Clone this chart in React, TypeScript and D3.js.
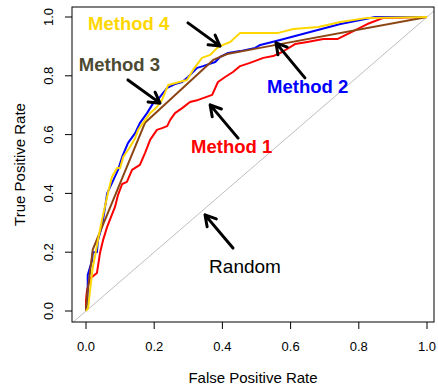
import * as d3 from "d3";

// ROC curves: [false positive rate, true positive rate]
const method1: [number, number][] = [
  [0, 0], [0, 0.037], [0.003, 0.071], [0.012, 0.112], [0.018, 0.116], [0.032, 0.129],
  [0.041, 0.197], [0.05, 0.241], [0.062, 0.286], [0.07, 0.31], [0.085, 0.354],
  [0.094, 0.395], [0.106, 0.432], [0.12, 0.439], [0.135, 0.48], [0.158, 0.497],
  [0.173, 0.537], [0.188, 0.582], [0.208, 0.616], [0.223, 0.622], [0.238, 0.629],
  [0.247, 0.65], [0.261, 0.673], [0.282, 0.69], [0.305, 0.711], [0.329, 0.718],
  [0.37, 0.735], [0.387, 0.779], [0.408, 0.796], [0.431, 0.813], [0.452, 0.833],
  [0.481, 0.844], [0.52, 0.861], [0.549, 0.867], [0.575, 0.881], [0.613, 0.908],
  [0.649, 0.915], [0.696, 0.925], [0.737, 0.925], [0.784, 0.952], [0.825, 0.976],
  [0.872, 0.997], [1, 1],
];

const method2: [number, number][] = [
  [0, 0], [0.005, 0.037], [0.005, 0.122], [0.018, 0.173], [0.02, 0.2], [0.032, 0.2],
  [0.035, 0.24], [0.047, 0.29], [0.056, 0.354], [0.062, 0.4], [0.076, 0.435],
  [0.094, 0.48], [0.106, 0.524], [0.123, 0.571], [0.144, 0.605], [0.158, 0.639],
  [0.179, 0.673], [0.197, 0.707], [0.217, 0.728], [0.238, 0.759], [0.261, 0.772],
  [0.282, 0.779], [0.299, 0.796], [0.326, 0.827], [0.343, 0.833], [0.379, 0.847],
  [0.393, 0.864], [0.417, 0.878], [0.452, 0.884], [0.496, 0.895], [0.511, 0.905],
  [0.569, 0.922], [0.746, 0.976], [0.848, 1], [1, 1],
];

const method3: [number, number][] = [
  [0, 0], [0.003, 0.05], [0.02, 0.21], [0.173, 0.64], [0.373, 0.854],
  [0.414, 0.874], [0.51, 0.895], [1, 1],
];

const method4: [number, number][] = [
  [0, 0], [0.006, 0.01], [0.012, 0.071], [0.02, 0.15], [0.026, 0.184], [0.035, 0.241],
  [0.047, 0.31], [0.065, 0.405], [0.076, 0.456], [0.091, 0.486], [0.1, 0.486],
  [0.109, 0.524], [0.129, 0.558], [0.144, 0.588], [0.153, 0.616], [0.167, 0.639],
  [0.188, 0.673], [0.208, 0.694], [0.223, 0.718], [0.241, 0.769], [0.296, 0.786],
  [0.314, 0.82], [0.34, 0.861], [0.364, 0.871], [0.385, 0.895], [0.402, 0.905],
  [0.423, 0.915], [0.452, 0.946], [0.564, 0.946], [0.608, 0.959], [0.681, 0.966],
  [0.746, 0.983], [0.825, 0.997], [1, 1],
];

const ticks = [0, 0.2, 0.4, 0.6, 0.8, 1];
const tickLabels = ["0.0", "0.2", "0.4", "0.6", "0.8", "1.0"];

const seriesNames = ["Method 1", "Method 2", "Method 3", "Method 4"];
const seriesData = [method1, method2, method3, method4];
const seriesColors = ["#ff0000", "#0000ff", "#8b4513", "#ffd700"];
const labelColors = ["#ff0000", "#0000ff", "#4d4a32", "#ffd700"];

// label anchor (data units) and arrow from -> to (data units)
const labelPos: [number, number][] = [[0.308, 0.537], [0.531, 0.741], [-0.021, 0.816], [0.006, 0.956]];
const arrows: [number, number, number, number][] = [
  [0.446, 0.588, 0.364, 0.701],
  [0.642, 0.793, 0.557, 0.912],
  [0.123, 0.786, 0.217, 0.707],
  [0.299, 0.98, 0.393, 0.901],
];
const randomLabel: [number, number] = [0.361, 0.129];
const randomArrow: [number, number, number, number] = [0.431, 0.214, 0.349, 0.327];

const W = 438;
const H = 385;
const box = { left: 72, right: 434, top: 7, bottom: 322 };
const font = "'Liberation Sans', Arial, Helvetica, sans-serif";

function arrowPath(x: d3.ScaleLinear<number, number>, y: d3.ScaleLinear<number, number>, a: number[]) {
  const x0 = x(a[0]), y0 = y(a[1]), x1 = x(a[2]), y1 = y(a[3]);
  const ang = Math.atan2(y1 - y0, x1 - x0);
  const len = 12;
  const spread = Math.PI / 6;
  const hx1 = x1 - len * Math.cos(ang - spread), hy1 = y1 - len * Math.sin(ang - spread);
  const hx2 = x1 - len * Math.cos(ang + spread), hy2 = y1 - len * Math.sin(ang + spread);
  return `M${x0},${y0}L${x1},${y1}M${hx1},${hy1}L${x1},${y1}L${hx2},${hy2}`;
}

export default function App() {
  const x = d3.scaleLinear().domain([0, 1]).range([86, 427]);
  const y = d3.scaleLinear().domain([0, 1]).range([311, 17]);
  const line = d3.line<[number, number]>().x((d) => x(d[0])).y((d) => y(d[1]));

  return (
    <svg width={W} height={H} style={{ position: "absolute", left: 0, top: 0, background: "#fff" }} fontFamily={font}>
      <defs>
        <clipPath id="plotclip">
          <rect x={box.left} y={box.top} width={box.right - box.left} height={box.bottom - box.top} />
        </clipPath>
      </defs>
      <rect x={0} y={0} width={W} height={H} fill="#fff" />

      {/* random diagonal */}
      <line x1={x(-0.1)} y1={y(-0.1)} x2={x(1.1)} y2={y(1.1)} stroke="#bebebe" strokeWidth={1} clipPath="url(#plotclip)" />

      {seriesData.map((d, i) => (
        <path key={seriesNames[i]} d={line(d) ?? ""} fill="none" stroke={seriesColors[i]} strokeWidth={2} strokeLinejoin="round" />
      ))}

      {/* box */}
      <rect x={box.left} y={box.top} width={box.right - box.left} height={box.bottom - box.top} fill="none" stroke="#000" strokeWidth={1} />

      {/* x axis */}
      {ticks.map((t, i) => (
        <g key={"x" + t}>
          <line x1={x(t)} x2={x(t)} y1={box.bottom} y2={box.bottom + 7} stroke="#000" />
          <text x={x(t)} y={351} fontSize={13} textAnchor="middle">{tickLabels[i]}</text>
        </g>
      ))}
      {/* y axis */}
      {ticks.map((t, i) => (
        <g key={"y" + t}>
          <line x1={box.left} x2={box.left - 7} y1={y(t)} y2={y(t)} stroke="#000" />
          <text transform={`translate(53,${y(t)}) rotate(-90)`} fontSize={13} textAnchor="middle">{tickLabels[i]}</text>
        </g>
      ))}
      <text x={(box.left + box.right) / 2} y={383} fontSize={15} textAnchor="middle">False Positive Rate</text>
      <text transform={`translate(25,${(box.top + box.bottom) / 2}) rotate(-90)`} fontSize={15} textAnchor="middle">True Positive Rate</text>

      {/* annotations */}
      {seriesNames.map((n, i) => (
        <g key={"a" + n}>
          <text x={x(labelPos[i][0])} y={y(labelPos[i][1])} fontSize={18.5} fontWeight="bold" fill={labelColors[i]}>{n}</text>
          <path d={arrowPath(x, y, arrows[i])} fill="none" stroke="#000" strokeWidth={3} strokeLinecap="round" strokeLinejoin="round" />
        </g>
      ))}
      <text x={x(randomLabel[0])} y={y(randomLabel[1])} fontSize={19}>Random</text>
      <path d={arrowPath(x, y, randomArrow)} fill="none" stroke="#000" strokeWidth={3} strokeLinecap="round" strokeLinejoin="round" />
    </svg>
  );
}
